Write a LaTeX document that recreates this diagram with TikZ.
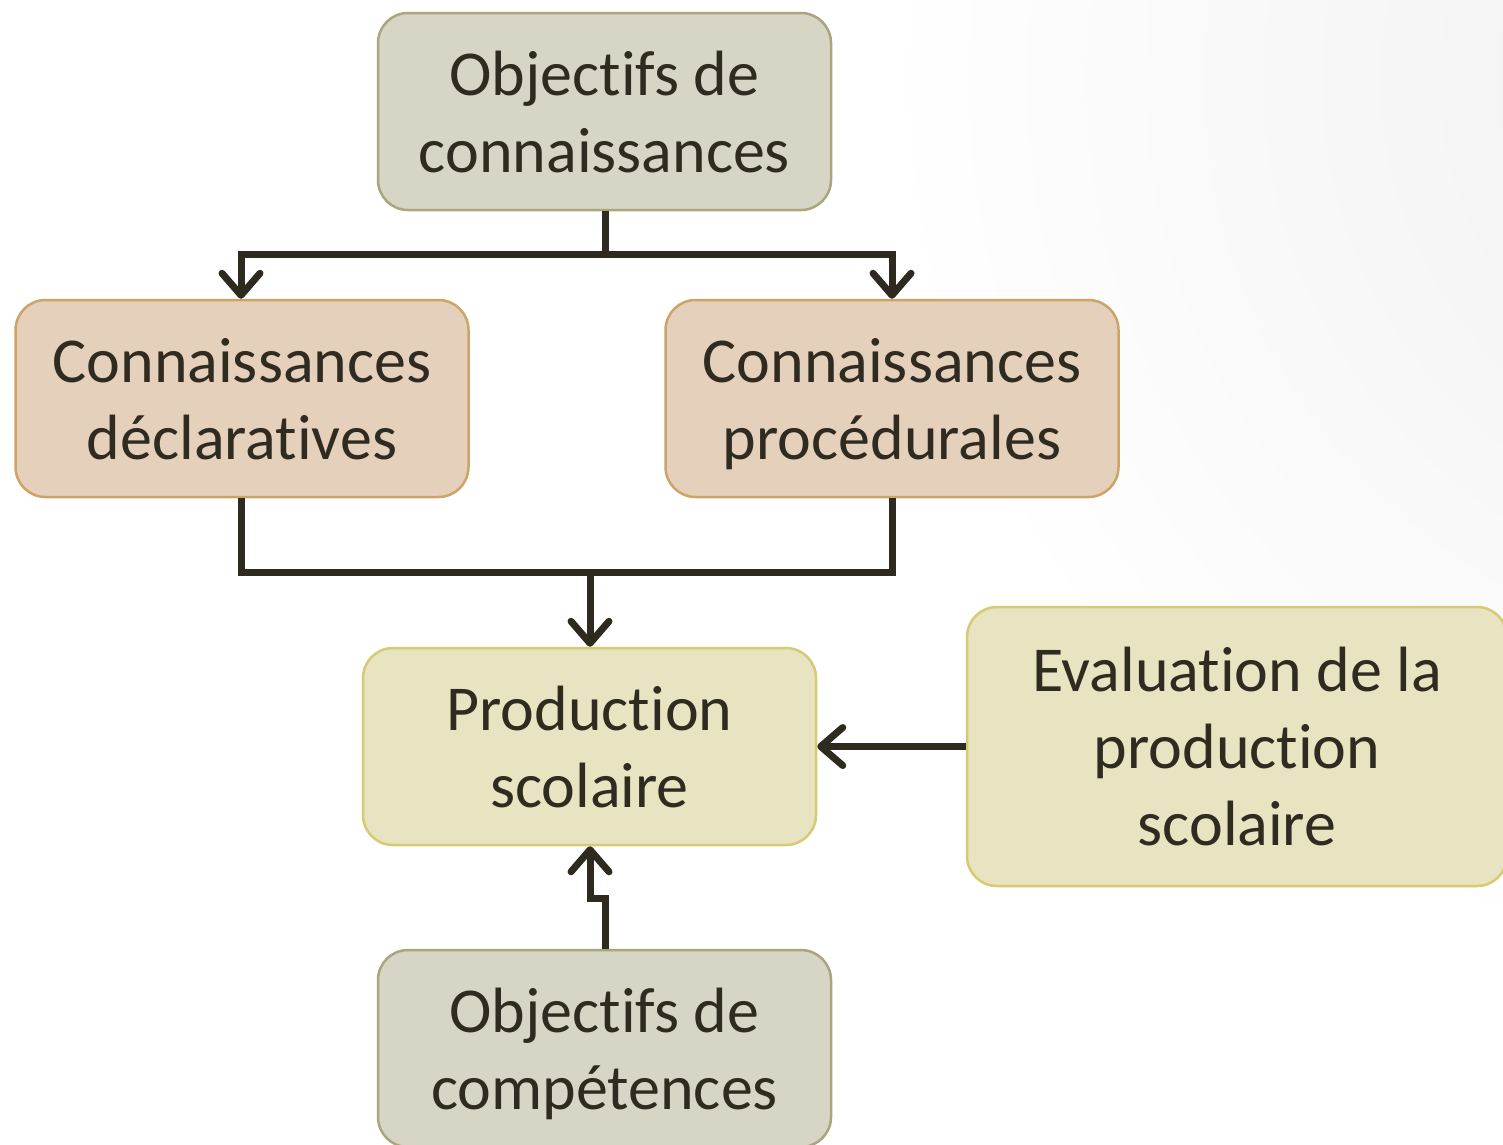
\documentclass[tikz,border=0pt]{standalone}
\usepackage{fontspec}
\setmainfont[Ligatures=NoCommon]{Carlito}
\usetikzlibrary{arrows.meta}
\definecolor{txt}{HTML}{2F2B20}
\definecolor{lnc}{HTML}{2E2A1F}
\definecolor{grayfill}{HTML}{D7D5C5}
\definecolor{graydraw}{HTML}{A9A57C}
\definecolor{tanfill}{HTML}{E4D0BB}
\definecolor{tandraw}{HTML}{CDA468}
\definecolor{yelfill}{HTML}{E8E3C0}
\definecolor{yeldraw}{HTML}{D4CB74}
\newcommand\topst{\rule{0pt}{58pt}}
\newcommand\botst{\rule[-14pt]{0pt}{14pt}}
\tikzset{
  box/.style={rounded corners=30pt, line width=2.5pt, align=center, text=txt,
    minimum width=453pt, minimum height=197pt, inner sep=0pt,
    font=\fontsize{64}{77}\selectfont},
  graybox/.style={box, fill=grayfill, draw=graydraw},
  tanbox/.style={box, fill=tanfill, draw=tandraw},
  yelbox/.style={box, fill=yelfill, draw=yeldraw},
  conn/.style={draw=lnc, line width=7pt, line join=miter},
  arr/.style={conn, -{Straight Barb[length=22pt,width=38pt,line cap=round,line join=round]}}
}
\begin{document}
\begin{tikzpicture}[x=1pt,y=-1pt]
\useasboundingbox (0,0) rectangle (1503,1144);
\begin{scope}
\clip (0,0) rectangle (1503,1144);
\shade[inner color=black!6, outer color=white] (1780,80) circle (900);
\end{scope}
\node[graybox] (objc) at (604.5,111.5) {\topst Objectifs de\\connaissances\botst};
\node[tanbox] (decl) at (242,398.5) {\topst Connaissances\\déclaratives\botst};
\node[tanbox] (proc) at (892,398.5) {\topst Connaissances\\procédurales\botst};
\node[yelbox] (prod) at (589.5,746.5) {\topst Production\\scolaire\botst};
\node[yelbox, minimum width=540pt, minimum height=279pt] (eval) at (1237,746.5) {\topst Evaluation de la\\production\\scolaire\botst};
\node[graybox] (objp) at (604.5,1048.5) {\topst Objectifs de\\compétences\botst};
% top split
\coordinate (j1) at (605,254);
\draw[conn] (objc.south -| j1) -- (j1);
\draw[arr] (j1) -- (241,254) -- (decl.north -| 241,0);
\draw[arr] (j1) -- (892,254) -- (proc.north -| 892,0);
% merge
\coordinate (m1) at (241,572);
\coordinate (m2) at (892,572);
\coordinate (m3) at (590,572);
\draw[conn] (decl.south -| m1) -- (m1) -- (m2) -- (proc.south -| m2);
\draw[arr] (m3) -- (prod.north -| m3);
% evaluation
\draw[arr] (eval.west) -- (prod.east);
% bottom
\coordinate (b1) at (605,898);
\coordinate (b2) at (590,898);
\draw[arr] (objp.north -| b1) -- (b1) -- (b2) -- (prod.south -| b2);
\end{tikzpicture}
\end{document}
